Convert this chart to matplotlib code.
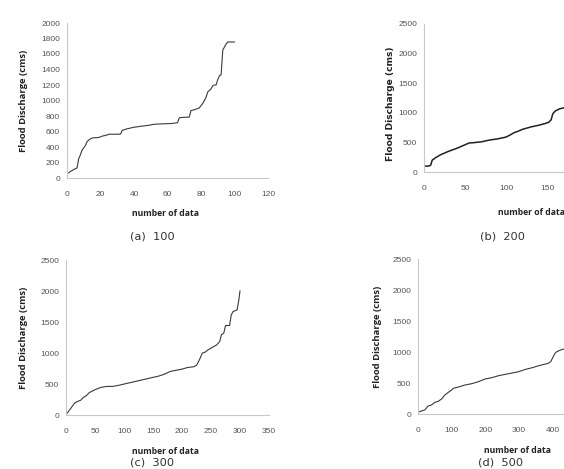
import matplotlib
matplotlib.use("Agg")
import matplotlib.pyplot as plt

# ---------------- data ----------------
# (a) 100 data, sorted flood discharge
a_values = [65, 85, 95, 110, 120, 130, 250, 300, 360, 390,
            420, 470, 490, 505, 515, 520, 520, 520, 525, 530,
            540, 545, 550, 555, 565, 565, 565, 565, 565, 565,
            566, 568, 615, 620, 630, 635, 640, 645, 650, 655,
            658, 660, 665, 668, 670, 672, 675, 678, 680, 685,
            690, 692, 695, 696, 697, 698, 699, 700, 700, 701,
            702, 703, 705, 707, 710, 715, 775, 780, 782, 783,
            784, 785, 786, 870, 875, 880, 888, 895, 905, 935,
            960, 1000, 1040, 1110, 1130, 1150, 1190, 1200, 1200, 1270,
            1320, 1330, 1650, 1690, 1730, 1755, 1755, 1755, 1755, 1755]
a_index = list(range(1, len(a_values) + 1))

# (b) 200 data (visible part)
b_index = [1, 5, 8, 10, 14, 20, 25, 30, 35, 40, 45, 50, 55, 60, 70, 80, 90,
           100, 105, 110, 115, 120, 130, 140, 148, 152, 155, 157, 160, 165, 172]
b_values = [100, 100, 110, 200, 240, 290, 320, 350, 375, 400, 430, 460, 490,
            495, 510, 540, 560, 590, 625, 665, 690, 720, 760, 790, 820, 840,
            880, 980, 1030, 1065, 1090]

# (c) 300 data
c_index = [1, 15, 20, 25, 30, 35, 40, 50, 60, 70, 80, 90, 100, 120, 140, 160,
           170, 180, 200, 210, 220, 225, 230, 235, 240, 245, 250, 255, 260,
           265, 268, 272, 275, 282, 285, 288, 295, 298, 300]
c_values = [16, 193, 220, 236, 284, 311, 360, 408, 445, 461, 461, 477, 499,
            542, 585, 628, 660, 703, 740, 767, 778, 800, 890, 998, 1014, 1052,
            1078, 1105, 1132, 1186, 1293, 1320, 1443, 1443, 1615, 1668, 1695,
            1856, 2001]

# (d) 500 data (visible part)
d_index = [1, 20, 30, 40, 50, 60, 70, 80, 90, 100, 105, 120, 140, 160, 180,
           200, 220, 240, 260, 280, 300, 320, 340, 360, 380, 390, 395, 400,
           405, 410, 420, 430, 440]
d_values = [32, 65, 129, 145, 188, 204, 242, 306, 349, 387, 414, 435, 468,
            489, 522, 565, 586, 618, 640, 661, 683, 720, 747, 780, 806, 823,
            844, 898, 952, 995, 1022, 1043, 1055]

a_xticks = [0, 20, 40, 60, 80, 100, 120]
a_yticks = [0, 200, 400, 600, 800, 1000, 1200, 1400, 1600, 1800, 2000]
b_xticks = [0, 50, 100, 150]
c_xticks = [0, 50, 100, 150, 200, 250, 300, 350]
d_xticks = [0, 100, 200, 300, 400]
q_yticks = [0, 500, 1000, 1500, 2000, 2500]

captions = ["(a)  100", "(b)  200", "(c)  300", "(d)  500"]
ylabel_text = "Flood Discharge (cms)"
xlabel_text = "number of data"

# ---------------- figure ----------------
W, H = 564, 469
fig = plt.figure(figsize=(W / 100, H / 100), dpi=100)
fig.patch.set_facecolor("white")

tick_font = ["Liberation Sans", "DejaVu Sans"]
label_font = ["Open Sans", "DejaVu Sans"]
line_col = "#3a3a3a"
spine_col = "#c8c8c8"
tick_col = "#555555"


def px_axes(left, right, top, bottom):
    return fig.add_axes([left / W, 1 - bottom / H, (right - left) / W, (bottom - top) / H])


def style(ax, xticks, yticks, xlim, ylim):
    ax.set_xlim(*xlim)
    ax.set_ylim(*ylim)
    ax.set_xticks(xticks)
    ax.set_yticks(yticks)
    for s in ["top", "right"]:
        ax.spines[s].set_visible(False)
    for s in ["left", "bottom"]:
        ax.spines[s].set_color(spine_col)
        ax.spines[s].set_linewidth(0.8)
    ax.tick_params(length=0, labelsize=6.0, colors=tick_col)
    ax.tick_params(axis="y", pad=5)
    ax.tick_params(axis="x", pad=9)
    for lab in ax.get_xticklabels() + ax.get_yticklabels():
        lab.set_family(tick_font)
    ax.set_facecolor("none")


# (a)
ax_a = px_axes(67, 268, 23, 178)
ax_a.plot(a_index, a_values, color=line_col, lw=0.8)
style(ax_a, a_xticks, a_yticks, (0, 120), (0, 2000))

# (b)
ax_b = px_axes(424, 424 + 41 * 5, 24, 172)
ax_b.plot(b_index, b_values, color="#202020", lw=1.1)
style(ax_b, b_xticks, q_yticks, (0, 250), (0, 2500))

# (c)
ax_c = px_axes(66, 269, 260, 415)
ax_c.plot(c_index, c_values, color=line_col, lw=0.8)
style(ax_c, c_xticks, q_yticks, (0, 350), (0, 2500))

# (d)
ax_d = px_axes(418, 418 + 33.6 * 6, 259, 414)
ax_d.plot(d_index, d_values, color=line_col, lw=0.8)
style(ax_d, d_xticks, q_yticks, (0, 600), (0, 2500))


def ftext(x, y, s, **kw):
    fig.text(x / W, 1 - y / H, s, **kw)


ylab_kw = dict(fontsize=6.8, fontweight="bold", color="#222222", family=label_font,
               rotation=90, ha="center", va="center")
ftext(24, 101, ylabel_text, **ylab_kw)
ftext(390, 104, ylabel_text, rotation=90, ha="center", va="center",
      fontsize=6.6, fontweight="bold", color="#222222", family=["DejaVu Sans"])
ftext(24, 338, ylabel_text, **ylab_kw)
ftext(377, 337, ylabel_text, **ylab_kw)

xlab_kw = dict(fontsize=6.2, fontweight="bold", color="#222222", family=label_font,
               ha="center", va="center")
ftext(165, 214, xlabel_text, **xlab_kw)
ftext(531, 212, xlabel_text, **xlab_kw)
ftext(165, 451, xlabel_text, **xlab_kw)
ftext(517, 450, xlabel_text, **xlab_kw)

cap_kw = dict(fontsize=8.2, color="#333333", family=["DejaVu Sans"], ha="center")
ftext(152, 231, captions[0], va="top", **cap_kw)
ftext(502, 231, captions[1], va="top", **cap_kw)
ftext(152, 467, captions[2], va="bottom", **cap_kw)
ftext(501, 467, captions[3], va="bottom", **cap_kw)

fig.savefig("out.png", dpi=100)
